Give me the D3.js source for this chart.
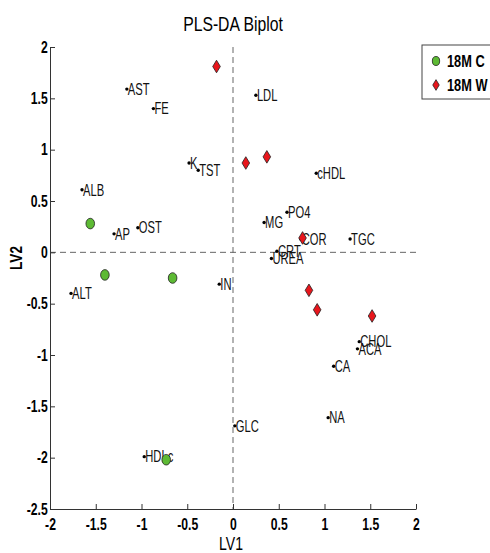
<!DOCTYPE html>
<html>
<head>
<meta charset="utf-8">
<script src="https://cdn.jsdelivr.net/npm/d3@7"></script>
<style>
  body { margin: 0; background: #fff; }
  svg { display: block; font-family: "Liberation Sans", Arial, sans-serif; }
</style>
</head>
<body>
<svg id="chart" width="490" height="553"></svg>
<script>
// loadings (variables)
const varNames = ["AST", "FE", "K", "TST", "ALB", "AP", "OST", "ALT", "IN", "HDLc", "GLC",
  "LDL", "cHDL", "PO4", "MG", "COR", "TGC", "CRT", "UREA", "CHOL", "ACA", "CA", "NA"]
const varX = [-1.16, -0.87, -0.48, -0.38, -1.65, -1.30, -1.04, -1.77, -0.15, -0.97, 0.02,
  0.25, 0.91, 0.59, 0.34, 0.74, 1.28, 0.48, 0.42, 1.38, 1.36, 1.10, 1.04]
const varY = [1.59, 1.40, 0.87, 0.80, 0.61, 0.18, 0.24, -0.40, -0.31, -1.99, -1.69,
  1.53, 0.77, 0.39, 0.29, 0.13, 0.13, 0.01, -0.06, -0.87, -0.94, -1.11, -1.61]

// scores
const groupC = "18M C"
const cX = [-1.56, -1.40, -0.66, -0.73]
const cY = [0.28, -0.22, -0.25, -2.02]
const groupW = "18M W"
const wX = [-0.18, 0.14, 0.37, 0.76, 0.83, 0.92, 1.52]
const wY = [1.81, 0.87, 0.93, 0.14, -0.37, -0.56, -0.62]

const xTicks = [-2, -1.5, -1, -0.5, 0, 0.5, 1, 1.5, 2]
const yTicks = [-2.5, -2, -1.5, -1, -0.5, 0, 0.5, 1, 1.5, 2]

const green = "#5dba34"
const red = "#e8161c"

const svg = d3.select("#chart")

const x = d3.scaleLinear().domain([-2, 2]).range([50, 416])
const y = d3.scaleLinear().domain([-2.5, 2]).range([509, 47])

// squeeze text horizontally like the original bitmap
const squeeze = (sel, sx) => sel.attr("transform", function () {
  const t = d3.select(this).attr("transform") || ""
  return t + ` scale(${sx},1)`
})

// title
svg.append("text")
  .attr("transform", "translate(233,31)")
  .attr("text-anchor", "middle")
  .style("font-size", "21px")
  .text("PLS-DA Biplot")
  .call(squeeze, 0.75)

// dashed zero lines
svg.append("line")
  .attr("x1", x(0)).attr("x2", x(0))
  .attr("y1", y(2)).attr("y2", y(-2.5))
  .attr("stroke", "#666").attr("stroke-dasharray", "6,4")
svg.append("line")
  .attr("x1", x(-2)).attr("x2", x(2))
  .attr("y1", y(0)).attr("y2", y(0))
  .attr("stroke", "#666").attr("stroke-dasharray", "6,4")

// axes
const fmt = d => String(d)
const gx = svg.append("g")
  .attr("transform", `translate(0,${y(-2.5)})`)
  .call(d3.axisBottom(x).tickValues(xTicks).tickFormat(fmt).tickSizeInner(-5).tickSizeOuter(0).tickPadding(10))
const gy = svg.append("g")
  .attr("transform", `translate(${x(-2)},0)`)
  .call(d3.axisLeft(y).tickValues(yTicks).tickFormat(fmt).tickSizeInner(-5).tickSizeOuter(0).tickPadding(3))

;[gx, gy].forEach(g => {
  g.selectAll("path, line").attr("stroke", "#333")
  g.selectAll("text")
    .attr("fill", "#000")
    .style("font-size", "16px")
    .style("font-weight", "bold")
    .style("font-family", "'Liberation Sans', Arial, sans-serif")
    .call(squeeze, 0.76)
})

// axis labels
svg.append("text")
  .attr("transform", "translate(231,550)")
  .attr("text-anchor", "middle")
  .style("font-size", "18px")
  .text("LV1")
  .call(squeeze, 0.78)
svg.append("text")
  .attr("transform", "translate(22,258) rotate(-90)")
  .attr("text-anchor", "middle")
  .style("font-size", "16px")
  .style("font-weight", "bold")
  .text("LV2")
  .call(squeeze, 0.85)

// variable loadings
const vars = varNames.map((n, i) => ({ name: n, x: varX[i], y: varY[i] }))
const vg = svg.append("g").selectAll("g").data(vars).join("g")
  .attr("transform", d => `translate(${x(d.x)},${y(d.y)})`)
vg.append("circle").attr("r", 1.7).attr("fill", "#000")
vg.append("text")
  .attr("transform", "translate(1,5.8)")
  .attr("fill", "#111")
  .style("font-size", "16px")
  .text(d => d.name)
  .call(squeeze, 0.7)

// markers
const ellipse = (sel, s) => sel.append("ellipse")
  .attr("rx", 4.3 * s).attr("ry", 5.3 * s)
  .attr("fill", green).attr("stroke", "#222").attr("stroke-width", 0.8)
const diamond = (sel, s) => sel.append("path")
  .attr("d", `M0,${-6.3 * s}L${3.8 * s},0L0,${6.3 * s}L${-3.8 * s},0Z`)
  .attr("fill", red).attr("stroke", "#222").attr("stroke-width", 0.8)

svg.append("g").selectAll("g").data(cX.map((v, i) => [v, cY[i]])).join("g")
  .attr("transform", d => `translate(${x(d[0])},${y(d[1])})`)
  .each(function () { ellipse(d3.select(this), 1) })
svg.append("g").selectAll("g").data(wX.map((v, i) => [v, wY[i]])).join("g")
  .attr("transform", d => `translate(${x(d[0])},${y(d[1])})`)
  .each(function () { diamond(d3.select(this), 1) })

// legend
const lg = svg.append("g")
lg.append("rect")
  .attr("x", 422).attr("y", 45).attr("width", 80).attr("height", 54)
  .attr("fill", "#fff").attr("stroke", "#444")
const items = [[groupC, 61, ellipse], [groupW, 85, diamond]]
items.forEach(([label, ly, mk]) => {
  const m = lg.append("g").attr("transform", `translate(436,${ly})`)
  mk(m, 0.85)
  lg.append("text")
    .attr("transform", `translate(447,${ly + 6})`)
    .style("font-size", "16px")
    .style("font-weight", "bold")
    .text(label)
    .call(squeeze, 0.8)
})
</script>
</body>
</html>
